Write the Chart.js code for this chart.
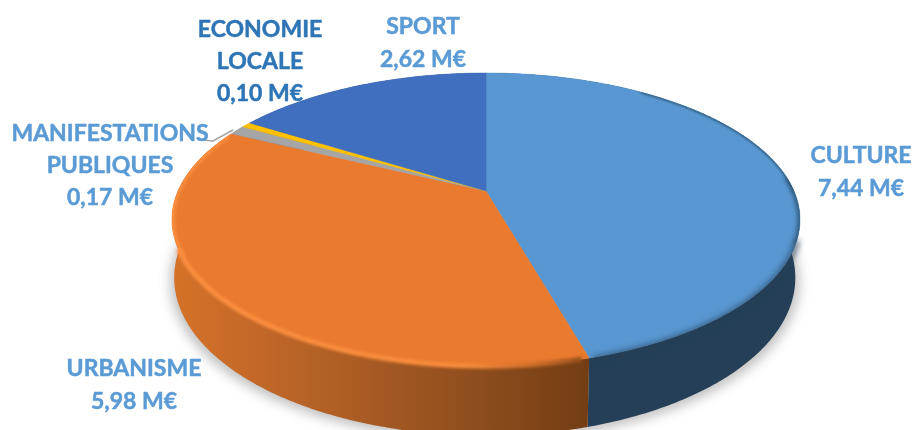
<!DOCTYPE html>
<html>
<head>
<meta charset="utf-8">
<style>
  html, body { margin: 0; padding: 0; background: #fff; }
  #chart { display: block; }
</style>
</head>
<body>
<canvas id="chart" width="914" height="430"></canvas>
<script src="https://cdn.jsdelivr.net/npm/chart.js@4"></script>
<script>
const categories = ['CULTURE', 'URBANISME', 'MANIFESTATIONS PUBLIQUES', 'ECONOMIE LOCALE', 'SPORT'];
const values = [7.44, 5.98, 0.17, 0.10, 2.62];
const colors = ['#5897D1', '#EA7A2E', '#A5A5A5', '#FFC000', '#406FBF'];
const wallColors = ['#243F57', '#A85A22', '#636363', '#997300', '#294474'];
const labelColors = ['#5B9BD5', '#5B9BD5', '#5B9BD5', '#2E75B6', '#5B9BD5'];

// lignes de texte et position de chaque étiquette
const labelLines = [['CULTURE'], ['URBANISME'], ['MANIFESTATIONS', 'PUBLIQUES'], ['ECONOMIE', 'LOCALE'], ['SPORT']];
const labelPos = [[861, 156], [134, 369], [110, 134], [260, 30], [423, 27]];

// perspective du disque
const CX = 486, CY = 191, RX = 308, RY = 141, PERSP = 0.195, DEPTH = 56;

function top3d(a) {
  const w = 1 - PERSP * Math.sin(a);
  return [CX + RX * Math.cos(a) / w, CY + RY * Math.sin(a) / w];
}

function bottom3d(a) {
  const w = 1 - PERSP * Math.sin(a);
  const c = Math.cos(a);
  return [CX + (c > 0 ? 0.985 : 0.993) * RX * c / w, CY + RY * Math.sin(a) / w + DEPTH / w];
}

function trace(ctx, fn, a0, a1, first) {
  const n = Math.max(2, Math.ceil(Math.abs(a1 - a0) / 0.01));
  for (let i = 0; i <= n; i++) {
    const p = fn(a0 + (a1 - a0) * i / n);
    if (i === 0 && first) ctx.moveTo(p[0], p[1]);
    else ctx.lineTo(p[0], p[1]);
  }
}

function fmtValue(v) {
  return v.toFixed(2).replace('.', ',') + ' M€';
}

const pie3d = {
  id: 'pie3d',
  beforeDatasetsDraw(chart) {
    const ctx = chart.ctx;
    const arcs = chart.getDatasetMeta(0).data;
    const start = -Math.PI / 2, end = start + Math.PI * 2;

    // ombre sous le disque
    ctx.save();
    ctx.filter = 'blur(6px)';
    ctx.fillStyle = 'rgba(60,60,60,0.32)';
    ctx.beginPath();
    trace(ctx, a => { const p = bottom3d(a); return [p[0] + (p[0] > CX ? 4 : -4), p[1] + 4]; }, start, end, true);
    ctx.closePath();
    ctx.fill();
    ctx.restore();

    // parois
    const orangeWall = ctx.createLinearGradient(172, 0, 590, 0);
    orangeWall.addColorStop(0, '#D67229');
    orangeWall.addColorStop(0.3, '#B96327');
    orangeWall.addColorStop(0.68, '#92501E');
    orangeWall.addColorStop(1, '#733D14');
    arcs.forEach((arc, i) => {
      ctx.fillStyle = i === 1 ? orangeWall : wallColors[i];
      ctx.beginPath();
      trace(ctx, top3d, arc.startAngle, arc.endAngle, true);
      trace(ctx, bottom3d, arc.endAngle, arc.startAngle, false);
      ctx.closePath();
      ctx.fill();
    });

    // dessus
    arcs.forEach((arc, i) => {
      ctx.fillStyle = colors[i];
      ctx.strokeStyle = colors[i];
      ctx.lineWidth = 0.5;
      ctx.beginPath();
      ctx.moveTo(CX, CY);
      trace(ctx, top3d, arc.startAngle, arc.endAngle, false);
      ctx.closePath();
      ctx.fill();
      ctx.stroke();
    });

    // biseau du bord
    const cult = arcs[0], urb = arcs[1];
    const rim = ctx.createLinearGradient(172, 0, 590, 0);
    rim.addColorStop(0, '#FB8E3E');
    rim.addColorStop(0.7, '#F88C3C');
    rim.addColorStop(0.88, '#C86B28');
    rim.addColorStop(1, '#8A4A1A');

    // avant du disque : le flou déborde sur la paroi
    ctx.save();
    ctx.filter = 'blur(3px)';
    ctx.lineWidth = 4;
    ctx.strokeStyle = '#243F57';
    ctx.beginPath();
    trace(ctx, a => { const p = top3d(a); return [p[0], p[1] + 2]; }, 0.32, cult.endAngle - 0.01, true);
    ctx.stroke();
    ctx.filter = 'blur(1.5px)';
    ctx.lineWidth = 5;
    ctx.strokeStyle = rim;
    ctx.beginPath();
    trace(ctx, top3d, urb.startAngle + 0.02, 2.75, true);
    ctx.stroke();
    ctx.restore();

    // côtés et arrière : on reste dans le dessus
    ctx.save();
    ctx.beginPath();
    trace(ctx, top3d, start, end, true);
    ctx.closePath();
    ctx.clip();
    ctx.filter = 'blur(1.5px)';
    ctx.lineWidth = 6;
    ctx.strokeStyle = rim;
    ctx.beginPath();
    trace(ctx, top3d, 2.7, urb.endAngle - 0.02, true);
    ctx.stroke();
    ctx.filter = 'blur(2px)';
    ctx.lineWidth = 5;
    ctx.strokeStyle = '#2F5674';
    ctx.beginPath();
    trace(ctx, top3d, -0.1, 0.36, true);
    ctx.stroke();
    ctx.filter = 'blur(1px)';
    ctx.lineWidth = 2.4;
    ctx.beginPath();
    trace(ctx, top3d, -0.95, 0.0, true);
    ctx.stroke();
    ctx.restore();

    // filet de la petite part
    ctx.strokeStyle = '#A5A5A5';
    ctx.lineWidth = 1.5;
    ctx.beginPath();
    ctx.moveTo(233, 130);
    ctx.lineTo(213, 141);
    ctx.lineTo(202, 140);
    ctx.stroke();

    // étiquettes
    ctx.font = 'bold 23px Lato, "Open Sans", sans-serif';
    ctx.textAlign = 'center';
    ctx.textBaseline = 'middle';
    ctx.lineWidth = 0.5;
    categories.forEach((c, i) => {
      ctx.fillStyle = labelColors[i];
      ctx.strokeStyle = labelColors[i];
      const lines = labelLines[i].concat(fmtValue(values[i]));
      const step = lines.length > 2 ? 32 : 33;
      lines.forEach((t, j) => {
        ctx.fillText(t, labelPos[i][0], labelPos[i][1] + j * step);
        ctx.strokeText(t, labelPos[i][0], labelPos[i][1] + j * step);
      });
    });
    return false;
  },
};

new Chart(document.getElementById('chart'), {
  type: 'pie',
  data: {
    labels: categories,
    datasets: [{ data: values, backgroundColor: colors, borderWidth: 0 }],
  },
  options: {
    responsive: false,
    animation: false,
    plugins: { legend: { display: false }, tooltip: { enabled: false } },
  },
  plugins: [pie3d],
});
</script>
</body>
</html>
